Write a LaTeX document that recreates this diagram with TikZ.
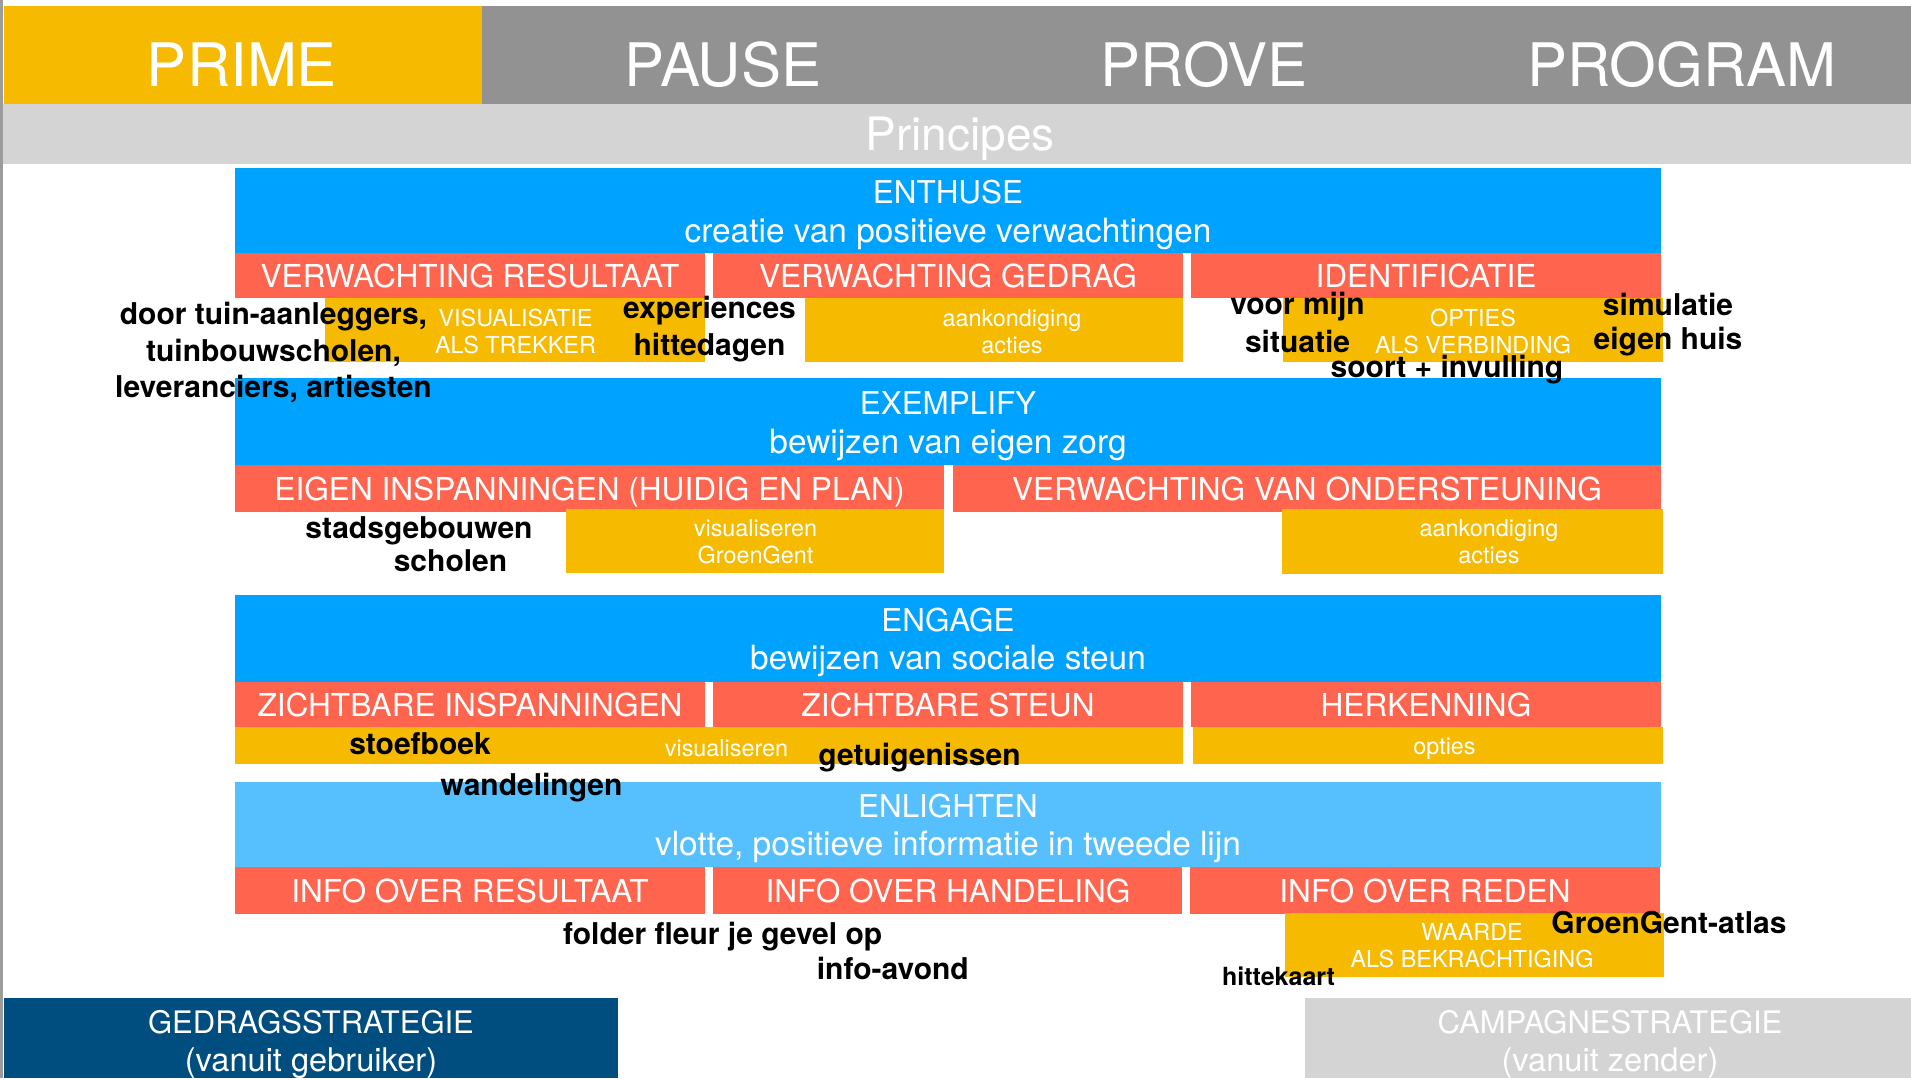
\documentclass[tikz,border=0pt]{standalone}
\usepackage{fontspec}
\setmainfont{TeX Gyre Heros}
\definecolor{pyellow}{HTML}{F6BA00}
\definecolor{pgrey}{HTML}{929292}
\definecolor{plgrey}{HTML}{D4D4D4}
\definecolor{pblue}{HTML}{00A2FF}
\definecolor{plblue}{HTML}{56C0FF}
\definecolor{pred}{HTML}{FF644F}
\definecolor{pdark}{HTML}{004D80}
\definecolor{pline}{HTML}{9C9C9C}
\tikzset{
  hdr/.style={text=white, inner sep=0, anchor=base, font=\fontsize{30}{32}\selectfont},
  princ/.style={text=white, inner sep=0, anchor=base, font=\fontsize{23}{26}\selectfont},
  ttl/.style={text=white, inner sep=0, anchor=base, font=\fontsize{15.7}{19}\selectfont},
  sub/.style={text=white, inner sep=0, anchor=base, font=\fontsize{16.7}{19}\selectfont},
  lbl/.style={text=white, inner sep=0, anchor=base, font=\fontsize{15.8}{18}\selectfont},
  ylw/.style={text=white, inner sep=0, align=center, font=\fontsize{11.7}{13.6}\selectfont},
  ann/.style={text=black, inner sep=0, font=\bfseries\fontsize{15}{18}\selectfont},
  annsmall/.style={text=black, inner sep=0, font=\bfseries\fontsize{12.5}{15}\selectfont},
  strat/.style={inner sep=0, anchor=base, font=\fontsize{15.5}{18}\selectfont},
  stratsub/.style={inner sep=0, anchor=base, font=\fontsize{16.3}{18}\selectfont}
}
\begin{document}
\begin{tikzpicture}[x=0.5pt,y=-0.5pt]
\useasboundingbox (0,0) rectangle (1911,1078);
\clip (0,0) rectangle (1911,1078);
\fill[white] (0,0) rectangle (1911,1078);
\fill[pline] (0,0) rectangle (3,1078);
% top band
\fill[pyellow] (3.5,6) rectangle (481.5,104.3);
\fill[pgrey] (481.5,6) rectangle (1911,104.3);
\fill[plgrey] (3,104.3) rectangle (1911,164.3);
% row 1
\fill[pblue] (235,167.5) rectangle (1661,252.7);
\fill[pred] (235,252.7) rectangle (705,297.7);
\fill[pred] (713,252.7) rectangle (1183,297.7);
\fill[pred] (1191,252.7) rectangle (1661,297.7);
\fill[pyellow] (325,297.7) rectangle (705,362);
\fill[pyellow] (805,297.7) rectangle (1183,361.7);
\fill[pyellow] (1283,297.7) rectangle (1663,361.7);
% row 2
\fill[pblue] (235,378) rectangle (1661,465);
\fill[pred] (235,465) rectangle (944,511.7);
\fill[pred] (953,465) rectangle (1661,511.7);
\fill[pyellow] (566,508.5) rectangle (944,573);
\fill[pyellow] (1282,509) rectangle (1663,574);
% row 3
\fill[pblue] (235,595) rectangle (1661,681.7);
\fill[pred] (235,681.7) rectangle (705,727.3);
\fill[pred] (713,681.7) rectangle (1183,727.3);
\fill[pred] (1191,681.7) rectangle (1661,727.3);
\fill[pyellow] (235,727.3) rectangle (1183,764);
\fill[pyellow] (1193,727.3) rectangle (1663,764);
% row 4
\fill[plblue] (235,782.3) rectangle (1661,867.3);
\fill[pred] (235,867.3) rectangle (704.5,914);
\fill[pred] (713,867.3) rectangle (1182,914);
\fill[pred] (1190,867.3) rectangle (1660,914);
\fill[pyellow] (1284.5,913) rectangle (1663.5,976.7);
% bottom boxes
\fill[pdark] (4,997.7) rectangle (618,1078);
\fill[plgrey] (1305,998) rectangle (1911,1078);

% header texts
\node[hdr] (prime) at (242,86) {PRIME};
\node[hdr] (pause) at (723,86) {PAUSE};
\node[hdr] (prove) at (1204,86) {PROVE};
\node[hdr] (program) at (1682,86) {PROGRAM};
\node[princ] (principes) at (960,150) {Principes};

% blue titles
\node[ttl] (enthuse) at (948,203.5) {ENTHUSE};
\node[sub] (enthusesub) at (948,242) {creatie van positieve verwachtingen};
\node[ttl] (exemplify) at (948,414.5) {EXEMPLIFY};
\node[sub] (exemplifysub) at (948,453) {bewijzen van eigen zorg};
\node[ttl] (engage) at (948,631) {ENGAGE};
\node[sub] (engagesub) at (948,669.5) {bewijzen van sociale steun};
\node[ttl] (enlighten) at (948,817.5) {ENLIGHTEN};
\node[sub] (enlightensub) at (948,855.5) {vlotte, positieve informatie in tweede lijn};

% red labels
\node[lbl] (r1a) at (470,287) {VERWACHTING RESULTAAT};
\node[lbl] (r1b) at (948,287) {VERWACHTING GEDRAG};
\node[lbl] (r1c) at (1426,287) {IDENTIFICATIE};
\node[lbl] (r2a) at (589.5,500) {EIGEN INSPANNINGEN (HUIDIG EN PLAN)};
\node[lbl] (r2b) at (1307,500) {VERWACHTING VAN ONDERSTEUNING};
\node[lbl] (r3a) at (470,716.5) {ZICHTBARE INSPANNINGEN};
\node[lbl] (r3b) at (948,716.5) {ZICHTBARE STEUN};
\node[lbl] (r3c) at (1426,716.5) {HERKENNING};
\node[lbl] (r4a) at (470,902.5) {INFO OVER RESULTAAT};
\node[lbl] (r4b) at (948,902.5) {INFO OVER HANDELING};
\node[lbl] (r4c) at (1425,902.5) {INFO OVER REDEN};

% yellow texts
\node[ylw] (y1a) at (515.5,331.5) {VISUALISATIE\\ALS TREKKER};
\node[ylw] (y1b) at (1012,331.5) {aankondiging\\acties};
\node[ylw] (y1c) at (1473,331.5) {OPTIES\\ALS VERBINDING};
\node[ylw] (y2a) at (755.5,542) {visualiseren\\GroenGent};
\node[ylw] (y2b) at (1489,542) {aankondiging\\acties};
\node[ylw] (y3a) at (726.5,748.5) {visualiseren};
\node[ylw] (y3b) at (1444.5,748.5) {opties};
\node[ylw] (y4) at (1472,945.5) {WAARDE\\ALS BEKRACHTIGING};

% annotations
\node[ann] (a1) at (273.5,317) {door tuin-aanleggers,};
\node[ann] (a2) at (273.5,353) {tuinbouwscholen,};
\node[ann] (a3) at (273.5,389) {leveranciers, artiesten};
\node[ann] (a4) at (709.5,310.5) {experiences};
\node[ann] (a5) at (709.5,347.5) {hittedagen};
\node[ann] (a6) at (1297.5,306.5) {voor mijn};
\node[ann] (a7) at (1297.5,341.5) {situatie};
\node[ann] (a8) at (1668,304) {simulatie};
\node[ann] (a9) at (1668,342) {eigen huis};
\node[ann] (a10) at (1447,370) {soort + invulling};
\node[ann] (a11) at (419,530.5) {stadsgebouwen};
\node[ann] (a12) at (450.5,561) {scholen};
\node[ann] (a13) at (420,744) {stoefboek};
\node[ann] (a14) at (531.5,788) {wandelingen};
\node[ann] (a15) at (919.5,758) {getuigenissen};
\node[ann] (a16) at (722.7,937) {folder fleur je gevel op};
\node[ann] (a17) at (892.8,968) {info-avond};
\node[annsmall] (a18) at (1278.5,976.5) {hittekaart};
\node[ann] (a19) at (1669,922.5) {GroenGent-atlas};

% strategy boxes
\node[strat,text=white] (gedrag) at (311,1033.3) {GEDRAGSSTRATEGIE};
\node[stratsub,text=white] (gedragsub) at (311,1071) {(vanuit gebruiker)};
\node[strat,text=white] (campagne) at (1610,1033.3) {CAMPAGNESTRATEGIE};
\node[stratsub,text=white] (campagnesub) at (1610,1071) {(vanuit zender)};
\end{tikzpicture}
\end{document}
